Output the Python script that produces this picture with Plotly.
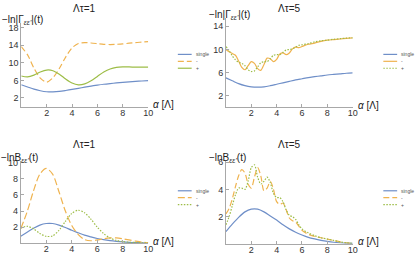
import plotly.graph_objects as go

W, H = 415, 257

# ---------------- data ----------------
x_smooth = [0, 0.5, 1, 1.5, 2, 2.5, 3, 3.5, 4, 4.5, 5, 5.5, 6, 6.5, 7, 7.5, 8, 8.5, 9, 9.5, 10]
x_fine = [0, 0.25, 0.5, 0.75, 1, 1.25, 1.5, 1.75, 2, 2.25, 2.5, 2.75, 3, 3.25, 3.5, 3.75,
          4, 4.25, 4.5, 4.75, 5, 5.25, 5.5, 5.75, 6, 6.5, 7, 7.5, 8, 8.5, 9, 9.5, 10]

# -ln|Gamma|, Lambda tau = 1
gam1_single = [5.0, 4.5, 4.0, 3.65, 3.42, 3.38, 3.48, 3.7, 3.95, 4.2, 4.45, 4.7, 4.92, 5.12, 5.28, 5.42, 5.55, 5.67, 5.77, 5.86, 5.95]
gam1_minus = [13.7, 11.8, 8.8, 6.5, 5.6, 6.6, 8.7, 11.3, 13.4, 14.4, 14.6, 14.5, 14.35, 14.2, 14.15, 14.2, 14.3, 14.45, 14.6, 14.7, 14.8]
gam1_plus = [7.0, 6.8, 7.2, 7.9, 8.35, 8.2, 7.4, 6.3, 5.4, 5.0, 5.2, 5.9, 6.9, 7.9, 8.6, 8.95, 9.05, 9.05, 9.0, 9.0, 9.0]

# -ln|Gamma|, Lambda tau = 5
gam5_single = [5.1, 4.6, 4.1, 3.75, 3.55, 3.5, 3.55, 3.75, 4.0, 4.25, 4.5, 4.75, 4.95, 5.15, 5.3, 5.45, 5.6, 5.7, 5.8, 5.9, 5.95]
gam5_minus = [10.0, 9.6, 9.3, 9.0, 8.0, 6.9, 6.5, 7.2, 7.9, 7.6, 6.7, 6.4, 7.4, 8.5, 8.4, 7.9,
              8.3, 9.2, 9.4, 9.1, 9.4, 10.1, 10.4, 10.3, 10.5, 10.9, 11.1, 11.4, 11.6, 11.7, 11.8, 11.9, 12.0]
gam5_plus = [10.5, 9.8, 8.9, 8.2, 7.8, 7.6, 7.2, 6.5, 6.2, 6.3, 7.0, 7.7, 7.9, 7.9, 8.4, 9.0,
             9.1, 9.1, 9.5, 9.9, 10.0, 10.1, 10.4, 10.7, 10.8, 11.0, 11.3, 11.5, 11.6, 11.75, 11.85, 11.95, 12.0]

# -ln B, Lambda tau = 1
b1_single = [0.85, 1.35, 1.85, 2.25, 2.45, 2.45, 2.25, 1.95, 1.6, 1.3, 1.0, 0.78, 0.58, 0.43, 0.31, 0.22, 0.15, 0.1, 0.07, 0.05, 0.03]
b1_minus = [1.8, 3.9, 6.5, 8.6, 9.3, 8.6, 6.4, 4.0, 2.2, 1.1, 0.45, 0.3, 0.4, 0.55, 0.65, 0.65, 0.55, 0.4, 0.25, 0.12, 0.05]
b1_plus = [1.9, 2.1, 1.8, 1.2, 0.85, 0.9, 1.6, 2.7, 3.7, 4.1, 3.8, 3.0, 2.0, 1.2, 0.65, 0.35, 0.2, 0.12, 0.08, 0.05, 0.03]

# -ln B, Lambda tau = 5
b5_single = [0.9, 1.45, 1.95, 2.35, 2.55, 2.55, 2.35, 2.05, 1.75, 1.4, 1.1, 0.85, 0.65, 0.48, 0.36, 0.26, 0.18, 0.12, 0.08, 0.05, 0.03]
b5_minus = [2.2, 2.6, 3.3, 4.2, 5.0, 5.45, 5.2, 4.4, 4.1, 4.9, 5.6, 5.0, 3.9, 4.1, 4.6, 4.0,
            3.1, 2.9, 3.0, 2.5, 1.9, 1.7, 1.6, 1.3, 1.0, 0.7, 0.55, 0.45, 0.35, 0.25, 0.15, 0.08, 0.04]
b5_plus = [1.4, 2.0, 2.8, 3.6, 4.1, 4.1, 4.0, 4.6, 5.6, 5.8, 4.9, 4.4, 4.6, 4.9, 4.5, 3.7,
           3.4, 3.4, 3.1, 2.5, 2.1, 2.0, 1.8, 1.4, 1.1, 0.8, 0.6, 0.45, 0.35, 0.25, 0.15, 0.08, 0.04]

legend_labels = ["single", "-", "+"]
titles = ["\u039b\u03c4=1", "\u039b\u03c4=5", "\u039b\u03c4=1", "\u039b\u03c4=5"]
ylabels = ["\u2212ln|\u0393<sub><i>\u03b5\u03b5'</i></sub>|(t)", "\u2212ln|\u0393<sub><i>\u03b5\u03b5'</i></sub>|(t)",
           "\u2212lnB<sub><i>\u03b5\u03b5'</i></sub>(t)", "\u2212lnB<sub><i>\u03b5\u03b5'</i></sub>(t)"]
x_ticks = [2, 4, 6, 8, 10]
y_ticks = [[2, 6, 10, 14, 18], [2, 6, 10, 14], [2, 4, 6, 8, 10], [2, 4, 6]]

# ---------------- styling ----------------
BLUE = "#6f8fc8"
ORANGE = "#efb34f"
GREEN = "#9dbd47"
AXC = "#a8a8a8"
FONT = "Liberation Sans"

# pixel geometry of each panel: (x_left, x_right, y_top, y_bottom, ymax)
panels = [
    (21.5, 150.0, 20.0, 105.0, 19.1),
    (228.7, 357.0, 15.0, 105.7, 15.45),
    (21.0, 150.0, 159.7, 243.0, 10.25),
    (228.7, 357.0, 159.7, 243.7, 6.1),
]

series = [
    [(x_smooth, gam1_single, "solid"), (x_smooth, gam1_minus, "6px,3px"), (x_smooth, gam1_plus, "solid")],
    [(x_smooth, gam5_single, "solid"), (x_fine, gam5_minus, "solid"), (x_fine, gam5_plus, "1.5px,1.5px")],
    [(x_smooth, b1_single, "solid"), (x_smooth, b1_minus, "7px,3px"), (x_smooth, b1_plus, "1.5px,1.5px")],
    [(x_smooth, b5_single, "solid"), (x_fine, b5_minus, "6px,3px"), (x_fine, b5_plus, "1.5px,1.5px")],
]
colors = [BLUE, ORANGE, GREEN]

fig = go.Figure()
layout = dict(
    width=W, height=H, margin=dict(l=0, r=0, t=0, b=0),
    paper_bgcolor="white", plot_bgcolor="white", showlegend=False,
    font=dict(family=FONT, size=9, color="#333333"),
)
annotations = []
shapes = []

def px_x(p):
    return p / W

def px_y(p):
    return 1 - p / H

for i, (xl, xr, yt, yb, ymax) in enumerate(panels):
    n = "" if i == 0 else str(i + 1)
    xa, ya = "x" + n, "y" + n
    for k, (xs, ys, dash) in enumerate(series[i]):
        fig.add_trace(go.Scatter(
            x=xs, y=ys, mode="lines", name=legend_labels[k],
            line=dict(color=colors[k], width=1.2, dash=dash, shape="spline", smoothing=0.8),
            xaxis=xa, yaxis=ya, hoverinfo="skip",
        ))
    layout["xaxis" + n] = dict(
        domain=[px_x(xl), px_x(xr)], range=[0, 10], anchor=ya,
        showgrid=False, zeroline=False, showline=True, linecolor=AXC, linewidth=1,
        ticks="inside", ticklen=3, tickcolor=AXC, tickvals=x_ticks,
        tickfont=dict(size=9, color="#333333"), fixedrange=True,
        ticklabelstandoff=-3,
    )
    layout["yaxis" + n] = dict(
        domain=[px_y(yb), px_y(yt)], range=[0, ymax], anchor=xa,
        showgrid=False, zeroline=False, showline=True, linecolor=AXC, linewidth=1,
        ticks="inside", ticklen=3, tickcolor=AXC, tickvals=y_ticks[i],
        tickfont=dict(size=9, color="#333333"), fixedrange=True,
    )
    # title
    cx = xl + 64
    ty = 6 if i < 2 else 143
    annotations.append(dict(text=titles[i], x=px_x(cx), y=px_y(ty), xref="paper", yref="paper",
                            showarrow=False, font=dict(size=10, color="#222222"),
                            xanchor="center", yanchor="middle"))
    # y-axis label
    annotations.append(dict(text=ylabels[i], x=px_x(xl - 22 if i % 2 == 0 else xl - 19),
                            y=px_y(yt - 3), xref="paper", yref="paper",
                            showarrow=False, font=dict(size=10, color="#222222"),
                            xanchor="left", yanchor="middle"))
    # x-axis label
    annotations.append(dict(text="<i>\u03b1</i> [\u039b]", x=px_x(xr + 3), y=px_y(yb - 2),
                            xref="paper", yref="paper", showarrow=False,
                            font=dict(size=10, color="#222222"), xanchor="left", yanchor="middle"))
    # legend
    lx0 = 180 if i % 2 == 0 else 388
    ly0 = 52 if i < 2 else 190
    dy = 7
    for k in range(3):
        yy = ly0 + k * dy
        dash = series[i][k][2]
        shapes.append(dict(type="line", xref="paper", yref="paper",
                           x0=px_x(lx0), x1=px_x(lx0 + 14), y0=px_y(yy), y1=px_y(yy),
                           line=dict(color=colors[k], width=1.2, dash=dash)))
        annotations.append(dict(text=legend_labels[k], x=px_x(lx0 + 16), y=px_y(yy),
                                xref="paper", yref="paper", showarrow=False,
                                font=dict(size=5, color="#555555"),
                                xanchor="left", yanchor="middle"))

layout["annotations"] = annotations
layout["shapes"] = shapes
fig.update_layout(**layout)
fig.write_html("out.html", config={"displayModeBar": False},
               post_script="document.body.style.margin='0';")
